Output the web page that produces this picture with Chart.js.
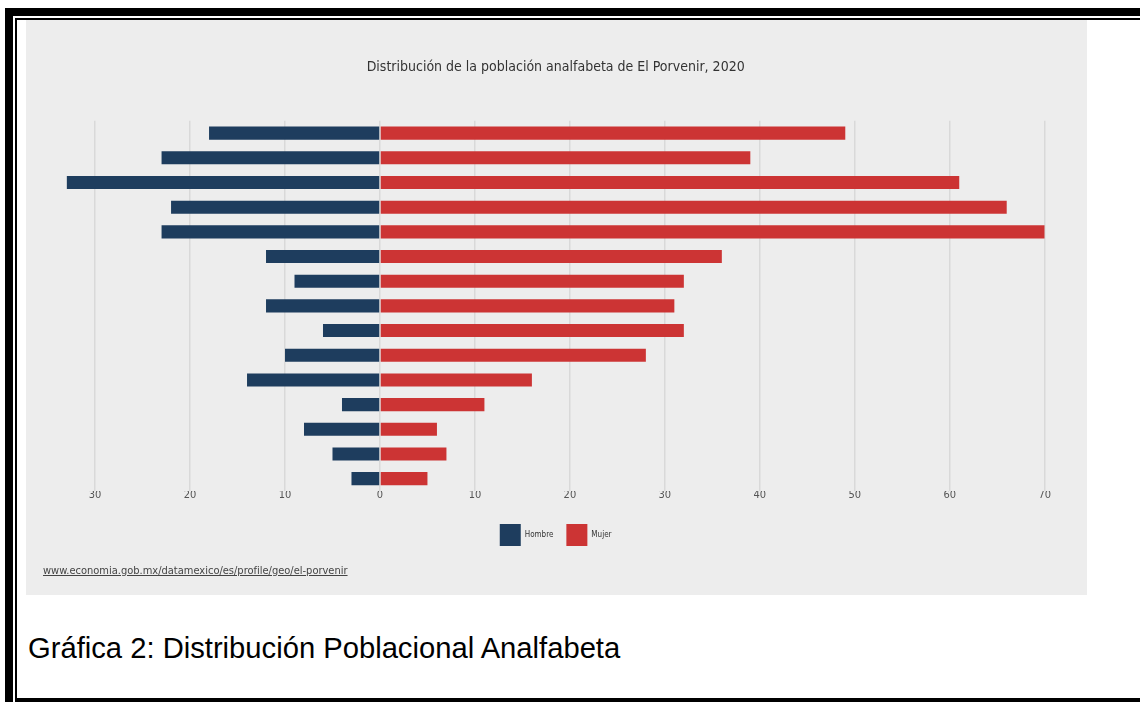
<!DOCTYPE html>
<html lang="es">
<head>
<meta charset="utf-8">
<title>Distribución de la población analfabeta de El Porvenir, 2020</title>
<script src="https://cdn.jsdelivr.net/npm/chart.js@4.4.1/dist/chart.umd.min.js"></script>
<style>
  html, body { margin: 0; padding: 0; background: #fff; }
  body { width: 1140px; height: 702px; position: relative; overflow: hidden; }
  .bar { position: absolute; background: #000; }
  #panel { position: absolute; left: 26px; top: 20px; width: 1061px; height: 575px; background: #ededed; }
  #source {
    position: absolute; left: 17px; top: 544px;
    font: 11px "Liberation Sans Narrow", "DejaVu Sans Condensed", "Roboto Condensed", "Noto Sans", sans-serif;
    color: #444; text-decoration: underline;
  }
  #caption {
    position: absolute; left: 28px; top: 632px;
    font: 29.2px "Liberation Sans", Arial, sans-serif; color: #000;
  }
</style>
</head>
<body>
<!-- double frame like the document table -->
<div class="bar" style="left:5px;top:8px;width:1135px;height:8px"></div>
<div class="bar" style="left:15px;top:18px;width:1125px;height:2px"></div>
<div class="bar" style="left:5px;top:8px;width:8px;height:694px"></div>
<div class="bar" style="left:15px;top:18px;width:2px;height:684px"></div>
<div class="bar" style="left:15px;top:698px;width:1125px;height:4px"></div>

<div id="panel">
  <canvas id="chart"></canvas>
  <div id="source">www.economia.gob.mx/datamexico/es/profile/geo/el-porvenir</div>
</div>
<div id="caption">Gráfica 2: Distribución Poblacional Analfabeta</div>

<script>
const NARROW = '"Liberation Sans Narrow", "DejaVu Sans Condensed", "Roboto Condensed", "Noto Sans", sans-serif';

// age groups, top row first (labels are not shown in the picture)
const ageGroups = [
  '85 años o más', '80 a 84 años', '75 a 79 años', '70 a 74 años', '65 a 69 años',
  '60 a 64 años', '55 a 59 años', '50 a 54 años', '45 a 49 años', '40 a 44 años',
  '35 a 39 años', '30 a 34 años', '25 a 29 años', '20 a 24 años', '15 a 19 años',
];
const hombre = [18, 23, 33, 22, 23, 12, 9, 12, 6, 10, 14, 4, 8, 5, 3];
const mujer  = [49, 39, 61, 66, 70, 36, 32, 31, 32, 28, 16, 11, 6, 7, 5];
const seriesNames = ['Hombre', 'Mujer'];
const xMin = -33, xMax = 70, xStep = 10;

const BLUE = '#1e3d5e';
const RED = '#cc3434';

new Chart(document.getElementById('chart'), {
  type: 'bar',
  data: {
    labels: ageGroups,
    datasets: [
      { label: seriesNames[0], data: hombre.map(v => -v), backgroundColor: BLUE },
      { label: seriesNames[1], data: mujer, backgroundColor: RED },
    ],
  },
  options: {
    indexAxis: 'y',
    responsive: true,
    maintainAspectRatio: false,
    animation: false,
    barPercentage: 0.53,
    categoryPercentage: 1,
    layout: { padding: { left: 40.6, right: 42.3, top: 0, bottom: 39 } },
    plugins: {
      title: {
        display: true,
        text: 'Distribución de la población analfabeta de El Porvenir, 2020',
        color: '#333',
        font: { family: NARROW, size: 14, weight: 'normal', lineHeight: 1.2 },
        padding: { top: 39, bottom: 45 },
      },
      legend: {
        position: 'bottom',
        labels: {
          boxWidth: 21,
          boxHeight: 22,
          padding: 13,
          color: '#333',
          font: { family: NARROW, size: 8 },
        },
      },
      tooltip: { enabled: false },
    },
    scales: {
      x: {
        stacked: true,
        min: xMin,
        max: xMax,
        border: { display: false },
        grid: { color: '#d9d9d9', lineWidth: 1.5, drawTicks: false },
        ticks: {
          stepSize: xStep,
          includeBounds: false,
          padding: -2,
          color: '#555',
          font: { family: NARROW, size: 11 },
          callback: v => Math.abs(v),
        },
        afterFit: scale => { scale.height = 20; },
      },
      y: {
        stacked: true,
        display: false,
      },
    },
  },
});
</script>
</body>
</html>
